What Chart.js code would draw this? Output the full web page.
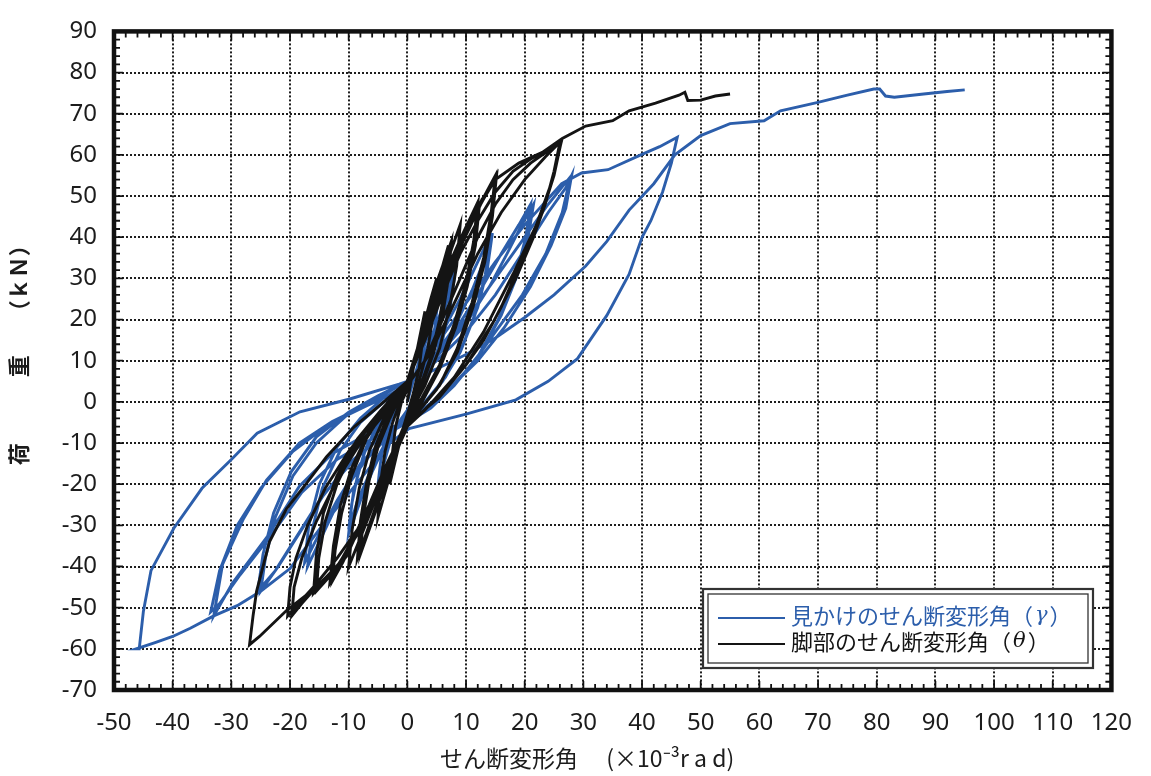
<!DOCTYPE html>
<html>
<head>
<meta charset="utf-8">
<script src="https://cdn.jsdelivr.net/npm/chart.js@4.4.0/dist/chart.umd.min.js"></script>
<style>
  html, body { margin: 0; padding: 0; background: #fff; }
</style>
</head>
<body>
<canvas id="loadChart" width="1151" height="776"></canvas>
<script>
// axis ranges (x: ×10^-3 rad, y: kN)
var xRange = [-50, 120];
var yRange = [-70, 90];
var tickStep = 10;

var legendLabels = ["見かけのせん断変形角（", "γ", "）", "脚部のせん断変形角（", "θ", "）"];

// 見かけのせん断変形角 γ  [x, y]
var gammaSmall = [
  [0,0],[1,5],[2,10],[3.5,16],[5,22],[4.6,17],[4,12],[3,7],[1.5,2],[0,-2],[-1.5,-5],[-3,-10],[-4,-15],[-5,-20],
  [-4.6,-15],[-4,-10],[-3,-5],[-1.5,0],[0,3],
  [1.5,7],[3,12],[5,19],[6.5,25],[8,32],[7.5,26],[6.5,19],[5,12],[3,5],[1,-1],[0,-3],[-2,-6],[-4,-11],[-6,-17],
  [-8,-24],[-10,-32],[-9.5,-25],[-8.5,-18],[-7,-11],[-4.5,-5],[-2,0],[0,4],
  [2,8],[4,14],[6,21],[8,30],[7.3,23],[6,15],[4,8],[2,2],[0,-3],[-3,-8],[-6,-16],[-8.5,-24],[-10,-31],
  [-9.2,-22],[-7.5,-13],[-5,-5],[-2,1],[0,4]
];
var gammaMid = [
  [3,10],[6,17],[9,25],[12,34],[14,40],[13.3,31],[11.5,21],[9,12],[6,5],[3,0],[0,-4],[-3,-8],[-7,-14],[-11,-22],
  [-14,-31],[-17,-40],[-16.2,-31],[-14.5,-21],[-11.5,-12],[-8,-5],[-4,0],[0,4],
  [4,10],[8,18],[11,27],[13,34],[14.5,41],[13.6,32],[12,23],[9.5,14],[6.5,6],[3,0],[0,-4],[-4,-9],[-8,-15],
  [-12,-24],[-15,-32],[-17.5,-39],[-16.8,-30],[-15,-20],[-12,-11],[-8,-4],[-4,1],[0,4],
  [4,10],[8,17],[12,26],[16,36],[19,43],[21,48],[20.2,40],[18.3,30],[15.5,20],[12,11],[8,4],[4,-1],[0,-5],
  [-4,-8],[-9,-14],[-14,-22],[-18,-31],[-22,-40],[-25,-46],[-24.2,-38],[-22.5,-28],[-19.5,-18],[-15.5,-10],
  [-10.5,-3.5],[-5,1],[0,5],
  [5,11],[10,19],[14,28],[17,36],[19.5,43],[21.5,48],[20.6,40],[18.8,31],[16,21],[12.5,12],[8,4],[4,-1.5],[0,-5],
  [-5,-9],[-10,-15],[-15,-24],[-19,-33],[-22.5,-41],[-25.5,-46],[-24.6,-37],[-22.8,-27],[-19.8,-17],[-15.5,-8.5],
  [-10,-2.5],[-5,1.5],[0,5]
];
var gammaLarge = [
  [5,12],[10,20],[15,30],[20,40],[24,48],[27.8,54.7],[26.4,46],[23.6,36],[19.6,26],[15,17],[11,9],[6.6,2.4],
  [1.5,-3],[0,-5],[-7,-8],[-12.8,-12.6],[-18.4,-20.5],[-24,-33],[-29.8,-44],[-33,-52],[-31.5,-39.5],[-28,-28.6],
  [-24,-19],[-18.4,-10],[-12.8,-4.8],[-7,-0.7],[-1.4,2.4],[0,4],
  [5,10],[10,17],[15,26],[20,37],[24,46],[27,52],[28,55],[27,47],[24.5,38],[21,28],[16.5,18],[12,10],[7,3],
  [2,-2.5],[0,-5],[-6,-9],[-12,-14],[-18,-22],[-23,-32],[-28.5,-42],[-32,-49],[-33.5,-51],[-32,-41],[-29,-30],
  [-25,-21],[-19.5,-12],[-13.5,-5.5],[-7,-1],[-1.5,2.5],[0,4]
];
var gammaBig = [
  [5,14],[10,24],[15,34],[20,43],[26.3,53],[29.7,55.6],[34.2,56.4],[39.8,60],[43,62],[46,64.3],
  [45,58],[43.5,51],[41.5,44],[40,40],[37.8,31],[34,21],[29,10.5],[24,5],[18.5,0.5],[10,-3],[0.3,-6.5],
  [-3,-10],[-7,-17],[-11,-24],[-15,-31],[-20,-40.5],[-25,-46],[-29,-49.5],[-33,-52],[-37,-55],[-40,-57],
  [-43,-58.5],[-46.2,-60],[-45.7,-60],
  [-45,-51],[-43.7,-41],[-39.8,-30.7],[-35,-21],[-30,-14],[-25.6,-7.6],[-18.3,-2.4],[-9.8,0.7],[-1.4,4.3],[0,5]
];
var gammaPush = [
  [5,8],[10,11.5],[15,15.5],[20,20.5],[25,26],[30.4,33],[34,39],[37.8,46.6],[42,53],[45.6,60],[50,64.7],
  [55,67.6],[60.8,68.3],[63.6,70.7],[69.8,72.7],[75,74.5],[79.5,76],[80.5,76],[81.5,74.3],[83,74],[88,74.8],
  [92,75.4],[95,75.8]
];

// 脚部のせん断変形角 θ  [x, y]
var thetaSmall = [
  [0,0],[1,8],[2,15],[3,22],[2.6,15],[2,8],[1,2],[0,-3],[-1,-8],[-2,-14],[-3,-20],[-2.6,-13],[-2,-6],[-1,0],[0,3],
  [1,9],[2.5,17],[4,25],[5,30],[4.5,22],[3.5,13],[2,5],[0,-3],[-1.5,-10],[-3,-18],[-4.2,-24],[-5,-28],
  [-4.6,-20],[-3.8,-12],[-2.5,-5],[-1,1],[0,4],
  [1.5,11],[3,19],[4.5,27],[6,33],[7,38],[6.5,29],[5.5,20],[4,11],[2,3],[0,-4],[-2,-12],[-4,-21],[-6,-29],
  [-8,-37],[-7.5,-28],[-6.5,-19],[-5,-11],[-3,-4],[-1,2],[0,5],
  [1.5,12],[3.5,21],[5,29],[6.5,35],[7.5,39],[7,30],[6,21],[4.5,12],[2.5,4],[0,-4],[-2.5,-13],[-4.5,-22],
  [-6.5,-30],[-8.5,-38],[-8,-29],[-7,-20],[-5.5,-11],[-3.5,-4],[-1,2],[0,5]
];
var thetaMid = [
  [2,13],[4,23],[6,31],[7.5,37],[9,43],[8.4,33],[7.2,23],[5.5,13],[3,4],[0,-4],[-3,-14],[-5.5,-24],[-8,-33],
  [-10,-40],[-9.4,-31],[-8.2,-21],[-6.5,-12],[-4,-4],[-1,2],[0,5],
  [2,13],[4.5,24],[7,33],[9.5,41],[12,48.5],[11.3,39],[10,29],[8,19],[5.5,9],[2.5,1],[0,-4],[-3,-14],[-6,-24],
  [-9,-33],[-11,-39],[-12.8,-43.6],[-12.3,-36],[-11.2,-27],[-9.5,-18],[-7,-9],[-3.5,-1],[0,5],
  [2,13],[5,26],[8,36],[10.5,43],[12.3,48],[11.6,38],[10.2,28],[8.2,18],[5.5,8],[2.5,0],[0,-5],[-3.5,-15],
  [-6.5,-25],[-9.5,-34],[-11.5,-40],[-13.2,-44],[-12.6,-35],[-11.4,-25],[-9.5,-16],[-6.5,-7],[-3,0],[0,5],
  [3,16],[6,28],[9,38],[12,47],[13.5,51],[15,55],[14.3,46],[13,35],[11,24],[8.5,13],[5.5,4],[2,-2],[0,-6],
  [-3.5,-16],[-7,-27],[-10.4,-37],[-13,-42],[-15.5,-46],[-15.1,-38],[-14,-29],[-12,-20],[-9,-11],[-5,-3],
  [-1,3],[0,5],
  [3,16],[6.5,29],[9.5,39],[12.5,48],[15.2,55],[14.5,45],[13.2,34],[11.2,23],[8.5,12],[5,3],[1.5,-3],[0,-6],
  [-4,-18],[-8,-30],[-11.5,-39],[-14,-43],[-16,-46.5],[-15.5,-37],[-14.3,-27],[-12,-18],[-8.5,-9],[-4.5,-2],[0,5]
];
var thetaLarge = [
  [3,16],[6,28],[9,38],[12,47],[15,54],[19,58],[23,60.6],[26.2,63],
  [25,55],[23,46],[20.2,36.7],[16,23],[13,15],[10,9],[5.4,1],[2,-3],[0,-6],
  [-4,-19],[-8,-31],[-12,-40],[-15.5,-45],[-18,-49],[-19.7,-52],
  [-19.3,-45],[-18,-38],[-15.5,-29],[-12,-19],[-8,-10],[-4,-3],[0,4],
  [3,10],[6,20],[9,30],[12,40],[15,48],[18,54],[21,58],[24,61],[26,63],
  [25,56],[23.5,48],[21.5,40],[18.5,30],[14.5,19],[10,9],[5,1],[0,-6],
  [-4,-18],[-8,-30],[-12,-38],[-16,-45],[-19.5,-50.5],[-20.4,-52],
  [-20,-45],[-19,-38],[-17,-30],[-14,-21],[-10,-12],[-5,-3],[0,4],
  [4,12],[8,24],[12,36],[16,46],[20,54],[23.5,59.5],[26.3,63.5],
  [24.5,53],[22,43],[18,31],[13,17],[8,6],[3,-2],[0,-6],
  [-4,-18],[-8,-30],[-10.4,-37.6],[-15.5,-45],[-20.6,-50.7],[-25.2,-57],[-26.9,-59],
  [-26.3,-52],[-25.7,-46],[-23.5,-34],[-20.6,-26],[-17.2,-19.8],[-13.8,-13.4],[-9,-6],[-4,0],[0,5]
];
var thetaPush = [
  [3,15],[6,26],[9,36],[12,44],[15,51],[18,56],[21,59],[23,60.6],[26.4,64],[30.4,67],[35,68.3],[37.8,70.7],
  [42.3,72.6],[46.3,74.5],[47.3,75.2],[47.8,73.2],[50,73.3],[52.5,74.3],[55,74.8]
];

var gammaPts = gammaSmall.concat(gammaMid, gammaLarge, gammaBig, gammaPush);
var thetaPts = thetaSmall.concat(thetaMid, thetaLarge, thetaPush);

function toXY(list) {
  return list.map(function (p) { return { x: p[0], y: p[1] }; });
}

var blue = "#2c5eab";
var black = "#141414";

// inward ticks and heavy frame around the plot
var frameTicks = {
  id: "frameTicks",
  afterDatasetsDraw: function (chart) {
    var ctx = chart.ctx, a = chart.chartArea, xs = chart.scales.x, ys = chart.scales.y;
    ctx.save();
    ctx.strokeStyle = "#111";
    ctx.lineWidth = 1.8;
    ctx.beginPath();
    for (var v = xRange[0]; v <= xRange[1]; v += 2) {
      var px = xs.getPixelForValue(v);
      var len = (v % 10 === 0) ? 9 : 6;
      ctx.moveTo(px, a.bottom); ctx.lineTo(px, a.bottom - len);
      ctx.moveTo(px, a.top); ctx.lineTo(px, a.top + len);
    }
    for (var w = yRange[0]; w <= yRange[1]; w += 2) {
      var py = ys.getPixelForValue(w);
      var ln = (w % 10 === 0) ? 9 : 6;
      ctx.moveTo(a.left, py); ctx.lineTo(a.left + ln, py);
      ctx.moveTo(a.right, py); ctx.lineTo(a.right - ln, py);
    }
    ctx.stroke();
    ctx.lineWidth = 4.5;
    ctx.strokeRect(a.left, a.top, a.right - a.left, a.bottom - a.top);
    ctx.restore();
  }
};

// boxed legend in the lower right, double border
var boxLegend = {
  id: "boxLegend",
  afterDraw: function (chart) {
    var ctx = chart.ctx;
    var bx = 703, by = 589, bw = 390, bh = 79;
    ctx.save();
    ctx.fillStyle = "#fff";
    ctx.fillRect(bx, by, bw, bh);
    ctx.strokeStyle = "#333";
    ctx.lineWidth = 2.2;
    ctx.strokeRect(bx, by, bw, bh);
    ctx.lineWidth = 1.3;
    ctx.strokeRect(bx + 5, by + 5, bw - 10, bh - 10);

    var rows = [
      { color: blue, y: by + 27, parts: legendLabels.slice(0, 3) },
      { color: black, y: by + 53, parts: legendLabels.slice(3, 6) }
    ];
    rows.forEach(function (r) {
      ctx.strokeStyle = r.color;
      ctx.lineWidth = 2.2;
      ctx.beginPath();
      ctx.moveTo(bx + 15, r.y + 2);
      ctx.lineTo(bx + 82, r.y + 2);
      ctx.stroke();
      ctx.fillStyle = r.color;
      ctx.textBaseline = "middle";
      var tx = bx + 88;
      ctx.font = "22px 'Noto Sans CJK JP'";
      ctx.fillText(r.parts[0], tx, r.y);
      tx += ctx.measureText(r.parts[0]).width;
      ctx.font = "italic 21px 'DejaVu Serif'";
      ctx.fillText(r.parts[1], tx + 2, r.y);
      tx += ctx.measureText(r.parts[1]).width + 4;
      ctx.font = "22px 'Noto Sans CJK JP'";
      ctx.fillText(r.parts[2], tx, r.y);
    });
    ctx.restore();
  }
};

var tickFont = { family: "'Noto Sans'", size: 24 };

var ctx = document.getElementById("loadChart").getContext("2d");

var myChart = new Chart(ctx, {
  type: "scatter",
  data: {
    datasets: [{
      label: "見かけのせん断変形角（γ）",
      data: toXY(gammaPts),
      showLine: true,
      borderColor: blue,
      backgroundColor: blue,
      borderWidth: 2.9,
      pointRadius: 0,
      tension: 0,
      order: 2
    }, {
      label: "脚部のせん断変形角（θ）",
      data: toXY(thetaPts),
      showLine: true,
      borderColor: black,
      backgroundColor: black,
      borderWidth: 2.9,
      pointRadius: 0,
      tension: 0,
      order: 1
    }]
  },
  options: {
    responsive: false,
    animation: false,
    devicePixelRatio: 1,
    events: [],
    layout: { padding: { top: 19, right: 35, left: 0, bottom: 0 } },
    plugins: {
      legend: { display: false },
      tooltip: { enabled: false }
    },
    scales: {
      x: {
        type: "linear",
        min: xRange[0],
        max: xRange[1],
        afterFit: function (s) { s.height = 86; },
        ticks: { stepSize: tickStep, font: tickFont, color: "#1c1c1c", padding: 19, maxRotation: 0 },
        grid: { color: "#1e1e1e", lineWidth: 2, drawTicks: false },
        border: { display: false, dash: [2, 2] },
        title: {
          display: true,
          text: "せん断変形角　 (×10⁻³r a d)　　 ",
          font: { family: "'Noto Sans CJK JP'", size: 23 },
          color: "#1c1c1c",
          padding: { top: 0, bottom: 4 }
        }
      },
      y: {
        type: "linear",
        min: yRange[0],
        max: yRange[1],
        afterFit: function (s) { s.width = 114; },
        ticks: { stepSize: tickStep, font: tickFont, color: "#1c1c1c", padding: 17 },
        grid: { color: "#1e1e1e", lineWidth: 2, drawTicks: false },
        border: { display: false, dash: [2, 2] },
        title: {
          display: true,
          text: "\u2003荷\u3000\u3000\u3000重\u3000\u2002（ｋＮ）",
          font: { family: "'Noto Sans CJK JP'", size: 22, weight: "bold" },
          color: "#1c1c1c",
          padding: { top: 5, bottom: 0 }
        }
      }
    }
  },
  plugins: [frameTicks, boxLegend]
});
</script>
</body>
</html>
